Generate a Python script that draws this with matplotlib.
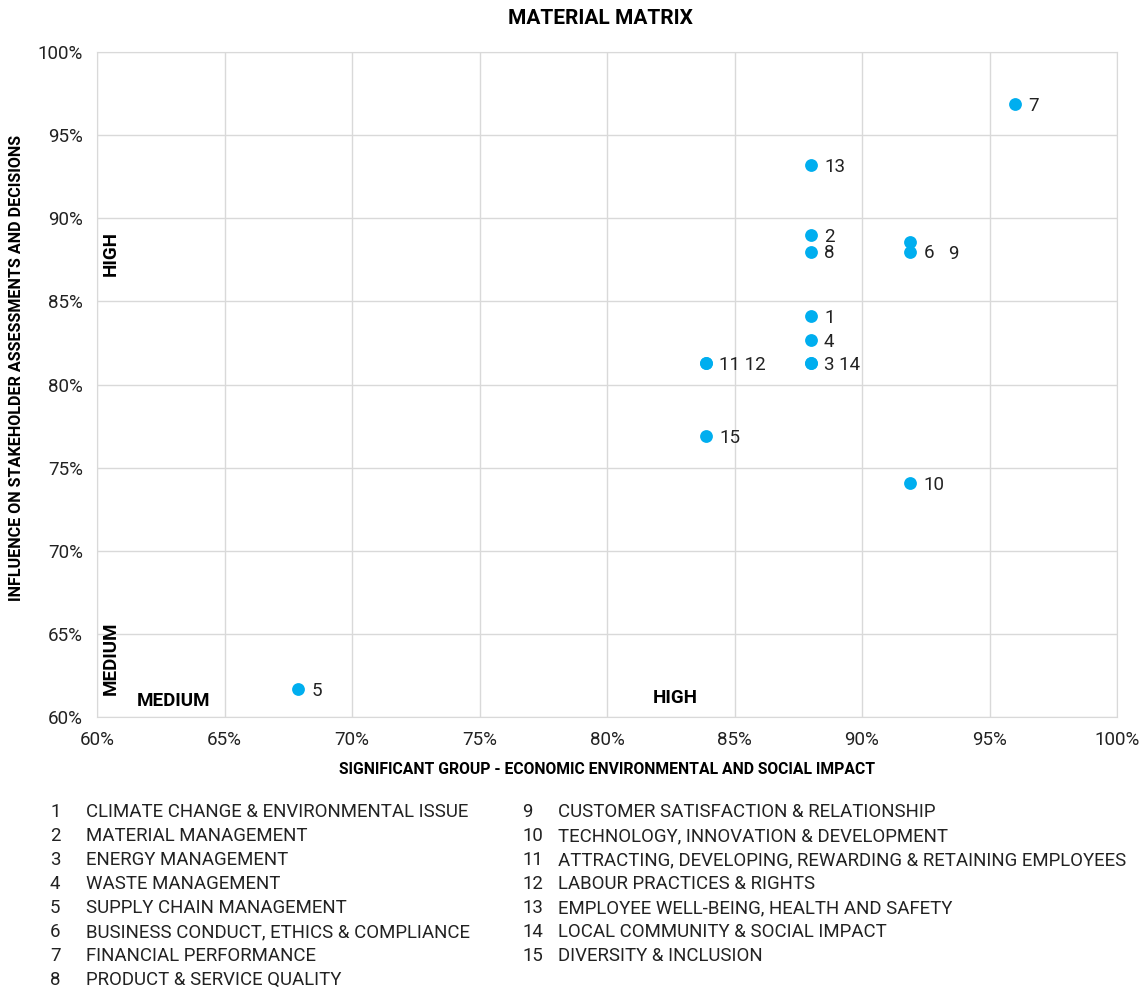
import matplotlib.pyplot as plt
from matplotlib.ticker import FuncFormatter

plt.rcParams['font.family'] = ['Roboto', 'DejaVu Sans']

# ---- data (percent) ----
ids = [1, 2, 3, 4, 5, 6, 7, 8, 9, 10, 11, 12, 13, 14, 15]
impact = [88.0, 88.0, 88.0, 88.0, 67.9, 91.9, 96.0, 88.0, 91.9, 91.9, 83.9, 83.9, 88.0, 88.0, 83.9]
influence = [84.1, 89.0, 81.3, 82.7, 61.7, 88.0, 96.9, 88.0, 88.6, 74.1, 81.3, 81.3, 93.2, 81.3, 76.9]

# point labels (some points share a spot, so they share a label)
point_labels = {1: "1", 2: "2", 3: "3 14", 4: "4", 5: "5", 6: "6", 7: "7",
                8: "8", 9: "9", 10: "10", 11: "11 12", 13: "13", 15: "15"}

topics = [
    "CLIMATE CHANGE & ENVIRONMENTAL ISSUE",
    "MATERIAL MANAGEMENT",
    "ENERGY MANAGEMENT",
    "WASTE MANAGEMENT",
    "SUPPLY CHAIN MANAGEMENT",
    "BUSINESS CONDUCT, ETHICS & COMPLIANCE",
    "FINANCIAL PERFORMANCE",
    "PRODUCT & SERVICE QUALITY",
    "CUSTOMER SATISFACTION & RELATIONSHIP",
    "TECHNOLOGY, INNOVATION & DEVELOPMENT",
    "ATTRACTING, DEVELOPING, REWARDING & RETAINING EMPLOYEES",
    "LABOUR PRACTICES & RIGHTS",
    "EMPLOYEE WELL-BEING, HEALTH AND SAFETY",
    "LOCAL COMMUNITY & SOCIAL IMPACT",
    "DIVERSITY & INCLUSION",
]

W, H = 1145, 989
fig = plt.figure(figsize=(W / 100, H / 100), dpi=100)
ax = fig.add_axes([97 / W, 1 - 717 / H, (1117 - 97) / W, (717 - 52) / H])

dot_color = "#00AEEF"
ax.scatter(impact, influence, s=85, color=dot_color, zorder=3, linewidths=0)

for pid, text in point_labels.items():
    i = ids.index(pid)
    dx, dy = 13, -2
    if pid == 9:
        dx, dy = 38, -12
    ax.annotate(text, (impact[i], influence[i]), xytext=(dx, dy),
                textcoords="offset pixels", ha="left", va="center",
                fontsize=13.5, color="#222222")

ax.set_xlim(60, 100)
ax.set_ylim(60, 100)
ticks = list(range(60, 101, 5))
ax.set_xticks(ticks)
ax.set_yticks(ticks)
pct = FuncFormatter(lambda v, p: f"{v:.0f}%")
ax.xaxis.set_major_formatter(pct)
ax.yaxis.set_major_formatter(pct)
ax.tick_params(length=0, labelsize=13.5, colors="#222222", pad=10)
ax.grid(True, color="#d9d9d9", linewidth=1)
ax.set_axisbelow(True)
for s in ax.spines.values():
    s.set_color("#d9d9d9")

ax.set_xlabel("SIGNIFICANT GROUP - ECONOMIC ENVIRONMENTAL AND SOCIAL IMPACT",
              fontsize=11.3, fontweight="bold")
ax.set_ylabel("INFLUENCE ON STAKEHOLDER ASSESSMENTS AND DECISIONS",
              fontsize=11.6, fontweight="bold")
ax.xaxis.set_label_coords(0.5, -(770 - 717) / (717 - 52))
ax.yaxis.set_label_coords(-(97 - 17) / (1117 - 97), (717 - 368) / (717 - 52))
ax.xaxis.label.set_va("center")
ax.yaxis.label.set_va("center")
fig.text(600 / W, 1 - 19 / H, "MATERIAL MATRIX", ha="center", va="center",
         fontsize=15, fontweight="bold")

# zone labels
fig.text(111 / W, 1 - 253 / H, "HIGH", rotation=90, ha="center", va="center",
         fontsize=13.5, fontweight="bold")
fig.text(111 / W, 1 - 658 / H, "MEDIUM", rotation=90, ha="center", va="center",
         fontsize=13.5, fontweight="bold")
fig.text(174 / W, 1 - 701 / H, "MEDIUM", ha="center", va="center",
         fontsize=13.5, fontweight="bold")
fig.text(675 / W, 1 - 698 / H, "HIGH", ha="center", va="center",
         fontsize=13.5, fontweight="bold")

# legend list
for k, name in enumerate(topics):
    if k < 8:
        xn, xt, y = 50, 86, 812 + 24 * k
    else:
        xn, xt, y = 522, 558, 812 + 24 * (k - 8)
    fig.text(xn / W, 1 - y / H, str(ids[k]), ha="left", va="center", fontsize=13.4, color="#222222")
    fig.text(xt / W, 1 - y / H, name, ha="left", va="center", fontsize=13.4, color="#222222")

fig.savefig("out.png", dpi=100)
